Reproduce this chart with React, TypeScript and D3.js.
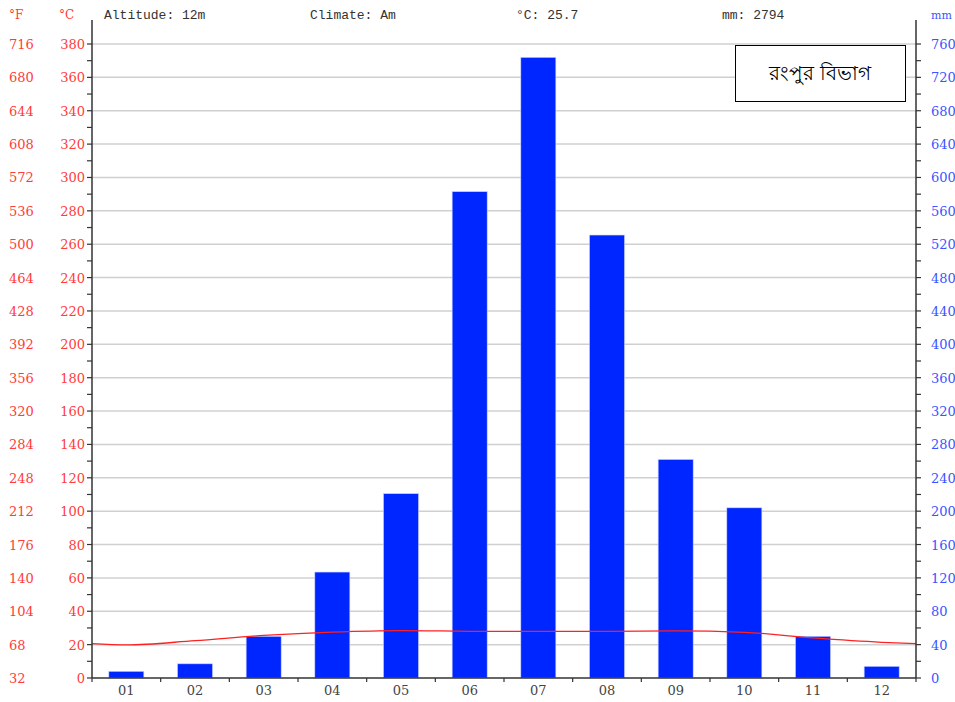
import React, { useRef, useEffect } from 'react';
import * as d3 from 'd3';

// climate data for Rangpur division
const months = ['01', '02', '03', '04', '05', '06', '07', '08', '09', '10', '11', '12'];
const precipitation = [8, 17, 50, 127, 221, 583, 744, 531, 262, 204, 50, 14];
const temperature = [19.8, 22.4, 25.5, 27.5, 28.4, 28.0, 27.9, 27.9, 28.2, 27.4, 24.0, 21.4];
const celsiusTicks = d3.range(0, 381, 20);
const headerTexts = ['Altitude: 12m', 'Climate: Am', '°C: 25.7', 'mm: 2794'];
const title = 'রংপুর বিভাগ';

const W = 955;
const H = 702;

const App = () => {
  const svgRef = useRef<SVGSVGElement>(null);

  useEffect(() => {
    const svg = d3.select(svgRef.current);
    svg.selectAll('*').remove();

    const left = 92, right = 916, top = 20, bottom = 678;
    const red = '#ff3b3b', blue = '#3a55ff', dark = '#333';

    const x = d3.scaleBand<string>().domain(months).range([left, right]).padding(0);
    const yC = d3.scaleLinear().domain([0, 380]).range([bottom, 44]);
    const yMm = d3.scaleLinear().domain([0, 760]).range([bottom, 44]);

    // gridlines
    svg.append('g')
      .selectAll('line')
      .data(celsiusTicks.filter(d => d > 0))
      .enter()
      .append('line')
      .attr('x1', left).attr('x2', right)
      .attr('y1', d => yC(d)).attr('y2', d => yC(d))
      .attr('stroke', '#d0d0d0').attr('stroke-width', 1.5);

    // bars
    const bw = x.bandwidth() * 0.51;
    svg.append('g')
      .selectAll('rect')
      .data(precipitation)
      .enter()
      .append('rect')
      .attr('x', (d, i) => x(months[i])! + (x.bandwidth() - bw) / 2)
      .attr('y', d => yMm(d))
      .attr('width', bw)
      .attr('height', d => bottom - yMm(d))
      .attr('fill', '#0026ff')
      .attr('stroke', '#c8d0ff')
      .attr('stroke-width', 0.6);

    // temperature line, padded at the edges with the Dec/Jan average
    const edge = (temperature[0] + temperature[11]) / 2;
    const pts: [number, number][] = [
      [left, yC(edge)],
      ...temperature.map((t, i) => [x(months[i])! + x.bandwidth() / 2, yC(t)] as [number, number]),
      [right, yC(edge)],
    ];
    svg.append('path')
      .attr('d', d3.line().curve(d3.curveMonotoneX)(pts)!)
      .attr('fill', 'none')
      .attr('stroke', '#ff2020')
      .attr('stroke-width', 1.3);

    // axes lines
    svg.append('line').attr('x1', left).attr('x2', left).attr('y1', top).attr('y2', bottom)
      .attr('stroke', dark).attr('stroke-width', 1.5);
    svg.append('line').attr('x1', right).attr('x2', right).attr('y1', top).attr('y2', bottom)
      .attr('stroke', dark).attr('stroke-width', 1.5);
    svg.append('line').attr('x1', left).attr('x2', right).attr('y1', bottom).attr('y2', bottom)
      .attr('stroke', dark).attr('stroke-width', 1.5);

    // small ticks every 10 °C
    const minor = d3.range(0, 381, 10);
    svg.append('g').selectAll('line').data(minor).enter().append('line')
      .attr('x1', left - 5).attr('x2', left)
      .attr('y1', d => yC(d)).attr('y2', d => yC(d))
      .attr('stroke', dark).attr('stroke-width', 1.2);
    svg.append('g').selectAll('line').data(minor).enter().append('line')
      .attr('x1', right).attr('x2', right + 5)
      .attr('y1', d => yC(d)).attr('y2', d => yC(d))
      .attr('stroke', dark).attr('stroke-width', 1.2);

    // month ticks
    const bounds = months.map(m => x(m)!).concat([right]);
    svg.append('g').selectAll('line').data(bounds).enter().append('line')
      .attr('x1', d => d).attr('x2', d => d)
      .attr('y1', bottom).attr('y2', bottom + 4)
      .attr('stroke', dark).attr('stroke-width', 1.2);

    const font = 'DejaVu Serif, serif';

    // month labels
    svg.append('g').selectAll('text').data(months).enter().append('text')
      .attr('x', d => x(d)! + x.bandwidth() / 2)
      .attr('y', 695)
      .attr('text-anchor', 'middle')
      .attr('font-family', font).attr('font-size', 13)
      .attr('fill', '#444')
      .text(d => d);

    // left labels
    const lab = svg.append('g').attr('font-family', font).attr('font-size', 13);
    lab.selectAll('.c').data(celsiusTicks).enter().append('text')
      .attr('x', 85).attr('y', d => yC(d) + 5)
      .attr('text-anchor', 'end').attr('fill', red)
      .text(d => d);
    lab.selectAll('.f').data(celsiusTicks).enter().append('text')
      .attr('x', 9).attr('y', d => yC(d) + 5)
      .attr('fill', red)
      .text(d => Math.round(d * 1.8 + 32));
    lab.selectAll('.mm').data(celsiusTicks).enter().append('text')
      .attr('x', 931).attr('y', d => yC(d) + 5)
      .attr('fill', blue)
      .text(d => d * 2);

    // units
    lab.append('text').attr('x', 9).attr('y', 19).attr('fill', red).attr('font-size', 12).text('°F');
    lab.append('text').attr('x', 59).attr('y', 19).attr('fill', red).attr('font-size', 12).text('°C');
    lab.append('text').attr('x', 931).attr('y', 19).attr('fill', blue).attr('font-size', 11).text('mm');

    // header
    svg.append('g').selectAll('text').data(headerTexts).enter().append('text')
      .attr('x', (d, i) => 104 + i * 206)
      .attr('y', 19)
      .attr('font-family', 'Liberation Mono, monospace')
      .attr('font-size', 13)
      .attr('fill', dark)
      .text(d => d);

    // title box
    svg.append('rect')
      .attr('x', 735.5).attr('y', 45.5).attr('width', 170).attr('height', 56)
      .attr('fill', 'white').attr('stroke', 'black').attr('stroke-width', 1);
    svg.append('text')
      .attr('x', 820).attr('y', 80)
      .attr('text-anchor', 'middle')
      .attr('font-family', 'Noto Sans, sans-serif')
      .attr('font-size', 20)
      .attr('fill', 'black')
      .text(title);
  }, []);

  return (
    <svg ref={svgRef} width={W} height={H}
      style={{ position: 'absolute', left: 0, top: 0, background: 'white' }} />
  );
};

export default App;
